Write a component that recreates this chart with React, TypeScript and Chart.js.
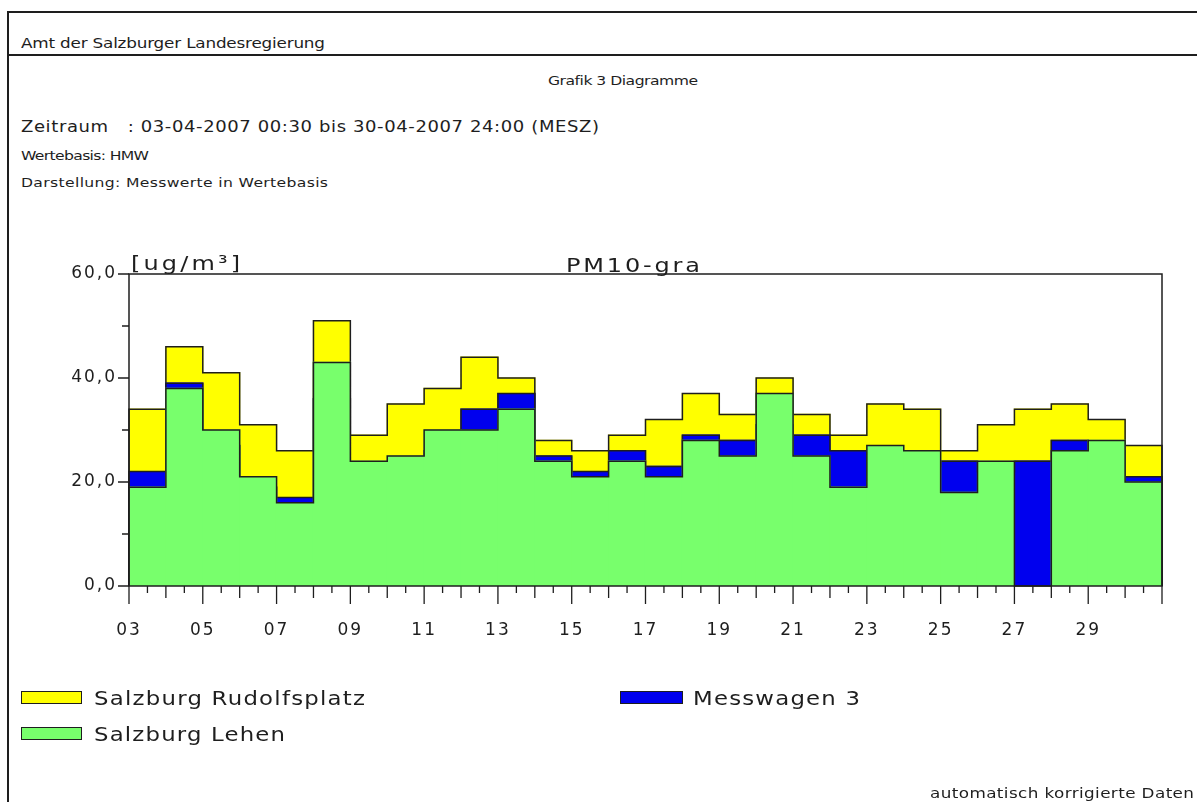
import React, { useEffect, useRef } from 'react';
import { Chart, registerables } from 'chart.js';

Chart.register(...registerables);

// ---- data ----
const days = ['03', '04', '05', '06', '07', '08', '09', '10', '11', '12', '13', '14', '15', '16',
  '17', '18', '19', '20', '21', '22', '23', '24', '25', '26', '27', '28', '29', '30'];
const rudolfsplatz = [34, 46, 41, 31, 26, 51, 29, 35, 38, 44, 40, 28, 26, 29,
  32, 37, 33, 40, 33, 29, 35, 34, 26, 31, 34, 35, 32, 27];
const messwagen3 = [22, 39, 27, 19, 17, 36, 21, 22, 26, 34, 37, 25, 22, 26,
  23, 29, 28, 31, 29, 26, 24, 23, 24, 22, 24, 28, 26, 21];
const lehen: (number | null)[] = [19, 38, 30, 21, 16, 43, 24, 25, 30, 30, 34, 24, 21, 24,
  21, 28, 25, 37, 25, 19, 27, 26, 18, 24, null, 26, 28, 20];
const yTickValues = [0, 20, 40, 60];
const yTickLabels = ['0,0', '20,0', '40,0', '60,0'];
const seriesNames = ['Salzburg Rudolfsplatz', 'Messwagen 3', 'Salzburg Lehen'];

const FONT = '"DejaVu Sans", "Liberation Sans", sans-serif';
const YELLOW = '#FFFF00';
const BLUE = '#0000EE';
const GREEN = '#78FF6C';
const INK = '#1e1e1e';
const STRETCH = 1.2;

function fitSpacing(text: string, size: number, width: number): number {
  const c = document.createElement('canvas').getContext('2d')!;
  c.font = `${size}px ${FONT}`;
  const w = c.measureText(text).width;
  const n = Array.from(text).length;
  return n > 1 ? (width / STRETCH - w) / (n - 1) : 0;
}

function FitText(props: { text: string; x: number; cy: number; w: number; size: number }) {
  const { text, x, cy, w, size } = props;
  const ls = fitSpacing(text, size, w);
  const h = Math.round(size * 1.3);
  return (
    <div
      style={{
        position: 'absolute', left: x, top: cy - h / 2, height: h, lineHeight: `${h}px`,
        fontSize: size, fontFamily: FONT, letterSpacing: `${ls}px`, whiteSpace: 'pre', color: INK,
        transform: `scaleX(${STRETCH})`, transformOrigin: 'left center',
      }}
    >
      {text}
    </div>
  );
}

const spacingPlugin = {
  id: 'tickSpacing',
  beforeDraw(chart: any) {
    (chart.ctx as any).letterSpacing = '2px';
  },
};

const outlinePlugin = {
  id: 'stepOutline',
  afterDatasetDraw(chart: any, args: any) {
    const meta = args.meta;
    const raw = chart.data.datasets[args.index].data as { x: number; y: number | null }[];
    const ctx = chart.ctx as CanvasRenderingContext2D;
    const zero = chart.scales.y.getPixelForValue(0);
    const els = meta.data;
    if (!els.length) return;
    ctx.save();
    ctx.beginPath();
    els.forEach((el: any, i: number) => {
      const p = el.getProps(['x', 'y', 'width'], true);
      const y = raw[i].y == null || !Number.isFinite(p.y) ? zero : p.y;
      const l = p.x - p.width / 2;
      const r = p.x + p.width / 2;
      if (i === 0) ctx.moveTo(l, zero);
      ctx.lineTo(l, y);
      ctx.lineTo(r, y);
      if (i === els.length - 1) ctx.lineTo(r, zero);
    });
    ctx.strokeStyle = INK;
    ctx.lineWidth = 1.5;
    ctx.stroke();
    ctx.restore();
  },
};

const axisPlugin = {
  id: 'axisFrame',
  afterDraw(chart: any) {
    const { ctx, chartArea: a, scales } = chart;
    const xs = scales.x;
    const ys = scales.y;
    ctx.save();
    ctx.strokeStyle = INK;
    ctx.lineWidth = 1.5;
    ctx.strokeRect(a.left, a.top, a.right - a.left, a.bottom - a.top);
    ctx.beginPath();
    for (let k = 0; k <= days.length * 2; k++) {
      const px = xs.getPixelForValue(k / 2);
      const len = k % 4 === 0 ? 18 : k % 2 === 0 ? 12 : 7;
      ctx.moveTo(px, a.bottom);
      ctx.lineTo(px, a.bottom + len);
    }
    for (let v = 0; v <= 60; v += 10) {
      const py = ys.getPixelForValue(v);
      const len = v % 20 === 0 ? 11 : 7;
      ctx.moveTo(a.left, py);
      ctx.lineTo(a.left - len, py);
    }
    ctx.lineWidth = 1.3;
    ctx.stroke();
    ctx.restore();
  },
};

function ChartCanvas() {
  const ref = useRef<HTMLCanvasElement>(null);
  useEffect(() => {
    if (!ref.current) return;
    const toPts = (arr: (number | null)[]) => arr.map((v, i) => ({ x: i + 0.5, y: v }));
    const chart = new Chart(ref.current, {
      type: 'bar',
      data: {
        datasets: [
          { label: seriesNames[2], data: toPts(lehen) as any, backgroundColor: GREEN },
          { label: seriesNames[1], data: toPts(messwagen3) as any, backgroundColor: BLUE },
          { label: seriesNames[0], data: toPts(rudolfsplatz) as any, backgroundColor: YELLOW },
        ],
      },
      options: {
        animation: false,
        responsive: false,
        layout: { padding: { left: 49, top: 274, right: 35, bottom: 156 } },
        datasets: {
          bar: {
            grouped: false, barPercentage: 1, categoryPercentage: 1, borderWidth: 0, inflateAmount: 0.6,
          } as any,
        },
        plugins: { legend: { display: false }, tooltip: { enabled: false }, title: { display: false } },
        scales: {
          x: {
            type: 'linear', min: 0, max: days.length, offset: false,
            grid: { display: false, drawTicks: false }, border: { display: false },
            ticks: {
              stepSize: 2, autoSkip: false, maxRotation: 0, padding: 34, color: INK,
              font: { family: FONT, size: 17 },
              callback: (v: any) => days[v as number] ?? '',
            },
            afterFit: (s: any) => { s.height = 60; },
          },
          y: {
            min: 0, max: 60,
            grid: { display: false, drawTicks: false }, border: { display: false },
            ticks: {
              stepSize: 10, autoSkip: false, padding: 12, color: INK,
              font: { family: FONT, size: 17 },
              callback: (v: any) => {
                const idx = yTickValues.indexOf(v as number);
                return idx >= 0 ? yTickLabels[idx] : '';
              },
            },
            afterFit: (s: any) => { s.width = 80; },
          },
        } as any,
      },
      plugins: [spacingPlugin, outlinePlugin, axisPlugin],
    });
    return () => chart.destroy();
  }, []);
  return (
    <canvas ref={ref} width={1197} height={802}
      style={{ position: 'absolute', left: 0, top: 0, display: 'block' }} />
  );
}

function LegendBox(props: { x: number; y: number; w: number; color: string }) {
  return (
    <div style={{
      position: 'absolute', left: props.x, top: props.y, width: props.w, height: 13,
      background: props.color, border: `1px solid ${INK}`, boxSizing: 'border-box',
    }} />
  );
}

export default function App() {
  return (
    <div style={{
      position: 'absolute', left: 0, top: 0, width: 1197, height: 802, overflow: 'hidden',
      background: '#fff', fontFamily: FONT,
    }}>
      <div style={{ position: 'absolute', left: 7, top: 11, width: 1190, height: 2, background: INK }} />
      <div style={{ position: 'absolute', left: 7, top: 11, width: 2, height: 791, background: INK }} />
      <div style={{ position: 'absolute', left: 7, top: 54, width: 1190, height: 2, background: INK }} />

      <FitText text="Amt der Salzburger Landesregierung" x={21} cy={43} w={304} size={14} />
      <FitText text="Grafik 3 Diagramme" x={548} cy={80} w={150} size={13} />
      <FitText text="Zeitraum   : 03-04-2007 00:30 bis 30-04-2007 24:00 (MESZ)" x={21} cy={127} w={578} size={15} />
      <FitText text="Wertebasis: HMW" x={21} cy={155} w={128} size={13} />
      <FitText text="Darstellung: Messwerte in Wertebasis" x={21} cy={182} w={307} size={13} />

      <ChartCanvas />

      <FitText text="[ug/m³]" x={131} cy={263} w={109} size={20} />
      <FitText text="PM10-gra" x={566} cy={265} w={134} size={20} />

      <LegendBox x={21} y={691} w={61} color={YELLOW} />
      <FitText text={seriesNames[0]} x={94} cy={698} w={271} size={19} />
      <LegendBox x={21} y={727} w={61} color={GREEN} />
      <FitText text={seriesNames[2]} x={94} cy={734} w={191} size={19} />
      <LegendBox x={620} y={691} w={63} color={BLUE} />
      <FitText text={seriesNames[1]} x={693} cy={698} w={167} size={19} />

      <FitText text="automatisch korrigierte Daten" x={930} cy={793} w={264} size={14} />
    </div>
  );
}
